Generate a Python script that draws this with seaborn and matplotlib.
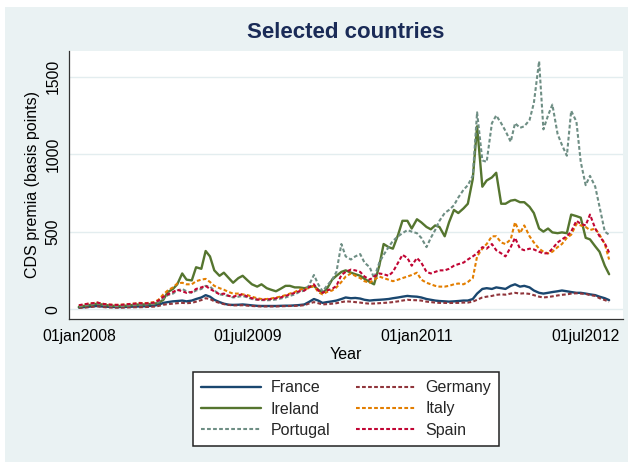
import matplotlib
matplotlib.use("Agg")
import matplotlib.pyplot as plt
from matplotlib.patches import Rectangle
import pandas as pd
import seaborn as sns

# Semi-monthly observation dates (1st and 15th of each month)
dates = pd.date_range("2008-01-01", "2012-09-15", freq="SMS")

# CDS premia in basis points
france = [10, 12, 15, 18, 20, 17, 15, 14, 13, 13, 14, 15, 16, 17, 18, 20,
          22, 28, 40, 45, 50, 52, 55, 50,
          55, 65, 75, 90, 80, 60, 45, 35, 28, 27, 28, 30,
          27, 24, 21, 20, 20, 20, 20, 21, 22, 22, 24, 26,
          30, 45, 65, 55, 40, 45, 50, 55, 65, 75, 70, 72,
          68, 60, 55, 58, 60, 62, 65, 70, 75, 80, 85, 82,
          80, 75, 65, 60, 55, 52, 50, 48, 50, 52, 55, 55,
          65, 100, 130, 135, 130, 140, 135, 130, 150, 160, 145, 150,
          140, 120, 105, 100, 105, 110, 115, 120, 115, 110, 105, 105,
          100, 95, 90, 80, 70, 58]
germany = [8, 9, 12, 15, 18, 14, 11, 10, 9, 9, 10, 11, 12, 12, 13, 14,
           16, 20, 28, 32, 35, 38, 40, 38,
           40, 48, 58, 70, 65, 50, 40, 32, 27, 24, 24, 25,
           22, 20, 18, 17, 17, 17, 17, 18, 19, 20, 21, 22,
           25, 35, 45, 38, 30, 32, 35, 38, 45, 50, 48, 45,
           42, 38, 35, 36, 38, 40, 42, 45, 50, 55, 60, 58,
           57, 55, 48, 45, 42, 40, 40, 39, 40, 40, 42, 42,
           48, 60, 75, 80, 85, 92, 95, 93, 100, 105, 100, 102,
           98, 90, 80, 75, 78, 82, 88, 92, 95, 100, 102, 100,
           98, 90, 85, 70, 58, 48]
ireland = [15, 20, 25, 30, 35, 30, 25, 22, 20, 20, 22, 25, 28, 30, 30, 32,
           35, 40, 60, 110, 130, 160, 230, 190,
           185, 270, 260, 375, 340, 250, 215, 235, 200, 170, 200, 215,
           185, 160, 145, 160, 135, 125, 115, 130, 150, 150, 140, 140,
           135, 140, 150, 125, 105, 130, 190, 215, 240, 250, 235, 225,
           215, 195, 175, 160, 280, 420, 400, 390, 480, 570, 570, 520,
           580, 560, 530, 515, 540, 530, 470, 560, 640, 620, 650, 680,
           840, 1180, 790, 830, 850, 880, 680, 680, 700, 705, 690, 690,
           660, 620, 520, 500, 520, 495, 490, 495, 490, 610, 600, 590,
           460, 450, 405, 370, 280, 225]
italy = [22, 28, 35, 38, 42, 35, 30, 28, 27, 28, 30, 33, 36, 40, 38, 40,
         45, 60, 95, 120, 140, 165, 170, 160,
         160, 180, 190, 195, 175, 150, 135, 125, 110, 100, 100, 95,
         90, 80, 70, 65, 65, 68, 75, 80, 90, 100, 110, 125,
         130, 135, 150, 110, 95, 110, 120, 140, 175, 210, 230, 215,
         200, 180, 170, 190, 210, 200, 190, 180, 190, 200, 210, 220,
         235, 190, 170, 160, 150, 145, 145, 150, 160, 165, 160, 175,
         200, 340, 390, 420, 470, 470, 430, 420, 450, 560, 490, 540,
         470, 430, 390, 370, 360, 370, 400, 420, 460, 480, 550, 540,
         530, 510, 520, 480, 420, 320]
portugal = [18, 22, 28, 32, 38, 30, 25, 22, 20, 20, 22, 25, 28, 30, 30, 32,
            35, 45, 70, 90, 100, 120, 130, 115,
            105, 120, 130, 150, 145, 120, 95, 90, 85, 75, 80, 85,
            75, 65, 60, 58, 57, 58, 62, 68, 75, 85, 95, 110,
            120, 150, 220, 160, 115, 150, 190, 240, 420, 340, 320, 340,
            355, 300, 270, 200, 300, 350, 400, 440, 470, 490, 510, 500,
            490, 460, 400, 460, 510, 570, 620, 640, 670, 720, 770, 800,
            860, 1270, 960, 950, 1200, 1250, 1200, 1150, 1080, 1200, 1170, 1180,
            1220, 1330, 1600, 1160, 1250, 1320, 1130, 1060, 990, 1280, 1210, 950,
            800, 860, 790, 660, 500, 480]
spain = [25, 30, 35, 38, 42, 35, 30, 28, 27, 27, 30, 33, 35, 38, 36, 38,
         42, 55, 80, 95, 110, 125, 115, 105,
         110, 130, 140, 150, 130, 115, 95, 100, 85, 80, 90, 95,
         80, 70, 62, 60, 62, 65, 70, 75, 85, 95, 105, 115,
         120, 140, 160, 120, 105, 120, 130, 150, 220, 240, 255, 250,
         240, 210, 190, 210, 230, 225, 215, 240, 300, 350, 330, 280,
         330, 300, 240, 230, 240, 250, 250, 260, 280, 290, 300, 320,
         340, 360, 400, 390, 420, 380, 360, 340, 400, 460, 390, 380,
         390, 385, 370, 360, 360, 390, 430, 450, 470, 500, 570, 550,
         540, 610, 520, 470, 425, 365]

countries = ["France", "Germany", "Ireland", "Italy", "Portugal", "Spain"]
values = [france, germany, ireland, italy, portugal, spain]

# Stata s2color palette
colors = ["#1A476F", "#90353B", "#55752F", "#E37E00", "#6E8E84", "#C10534"]
dash = (0, (1.8, 1.1))
styles = ["-", dash, "-", dash, dash, dash]
widths = [1.7, 1.5, 1.7, 1.5, 1.5, 1.5]

x_ticks = ["2008-01-01", "2009-07-01", "2011-01-01", "2012-07-01"]
x_tick_labels = ["01jan2008", "01jul2009", "01jan2011", "01jul2012"]
y_ticks = [0, 500, 1000, 1500]

sns.set_theme(style="white")
plt.rcParams['font.family'] = ['Liberation Sans', 'DejaVu Sans']

fig = plt.figure(figsize=(6.32, 4.66), dpi=100)
fig.patch.set_facecolor("white")
fig.add_artist(Rectangle((5 / 632, 4 / 466), 623 / 632, 455 / 466,
                         transform=fig.transFigure, facecolor="#EAF2F3",
                         edgecolor="none", zorder=0))

ax = fig.add_axes([69 / 632, 1 - 319 / 466, 554 / 632, 268 / 466])
ax.set_facecolor("white")

lines = {}
for name, vals, c, ls, lw in zip(countries, values, colors, styles, widths):
    sns.lineplot(x=dates, y=vals, ax=ax, color=c, linestyle=ls,
                 linewidth=lw, label=name, legend=False)
    lines[name] = ax.lines[-1]

ax.set_xlim(pd.Timestamp("2007-11-30"), pd.Timestamp("2012-10-30"))
ax.set_ylim(-64, 1666)

ax.set_xticks(pd.to_datetime(x_ticks))
ax.set_xticklabels(x_tick_labels)
ax.set_yticks(y_ticks)
ax.set_yticklabels([str(v) for v in y_ticks], rotation=90, va="center")
ax.tick_params(axis="both", which="major", direction="out", length=4,
               width=0.8, color="#333333", labelsize=11.3, labelcolor="black")
ax.tick_params(axis="x", pad=3)
ax.tick_params(axis="y", pad=2)

ax.grid(axis="y", color="#E3EDEF", linewidth=1.0)
ax.grid(axis="x", visible=False)
ax.set_axisbelow(True)

for side in ["top", "right"]:
    ax.spines[side].set_visible(False)
for side in ["left", "bottom"]:
    ax.spines[side].set_color("#333333")
    ax.spines[side].set_linewidth(0.9)

ax.set_xlabel("Year", fontsize=11.5, color="black")
ax.xaxis.set_label_coords(0.5, -0.104)
ax.set_ylabel("CDS premia (basis points)", fontsize=11.5, color="black")
ax.yaxis.set_label_coords(-0.052, 0.5)

fig.text(346 / 632, 1 - 33 / 466, "Selected countries", ha="center",
         va="center", fontsize=16, fontweight="bold", color="#1A2B57")

order = ["France", "Ireland", "Portugal", "Germany", "Italy", "Spain"]
leg = fig.legend([lines[n] for n in order], order, ncol=2, loc="center",
                 bbox_to_anchor=(346 / 632, 1 - 409 / 466),
                 bbox_transform=fig.transFigure, fontsize=11.5,
                 frameon=True, fancybox=False, framealpha=1,
                 edgecolor="#222222", handlelength=3.75, handletextpad=0.6,
                 columnspacing=1.6, labelspacing=0.4, borderpad=0.5)
leg.get_frame().set_linewidth(1.1)

fig.savefig("out.png", dpi=100)
